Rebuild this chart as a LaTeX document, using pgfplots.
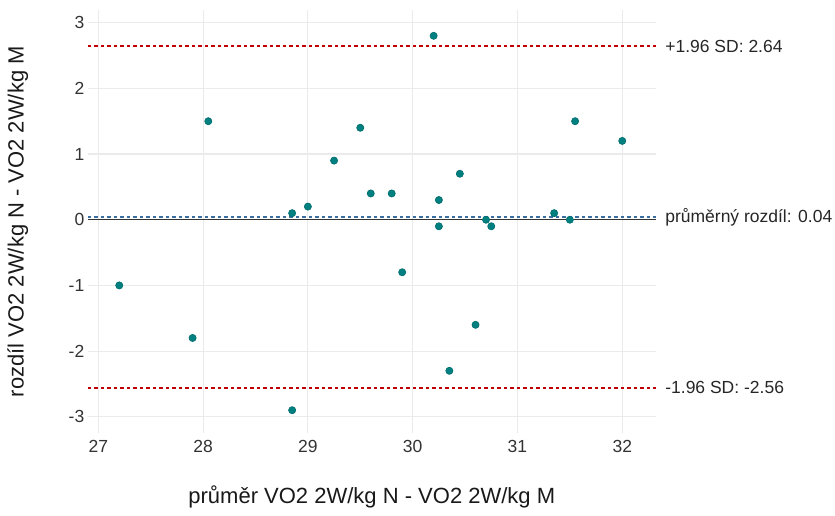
\documentclass[border=0pt]{standalone}
\usepackage{pgfplots}
\pgfplotsset{compat=1.18}
\usepackage{fontspec}
\setmainfont{Liberation Sans}
\definecolor{ptc}{HTML}{008080}
\definecolor{ptedge}{HTML}{006B6B}
\definecolor{sdred}{HTML}{C00000}
\definecolor{meanblue}{HTML}{3A6EA0}
\definecolor{gridc}{HTML}{EBEBEB}
\definecolor{tickc}{HTML}{333333}
\begin{document}
\begin{tikzpicture}
\path[use as bounding box] (-87.8pt,-82.8pt) rectangle (747.2pt,433.2pt);
\begin{axis}[
  width=568pt, height=423pt, scale only axis,
  xmin=26.9, xmax=32.32, ymin=-3.25, ymax=3.19,
  axis line style={draw=none}, major tick length=0pt,
  xtick={27,28,29,30,31,32}, ytick={-3,-2,-1,0,1,2,3},
  grid=major, major grid style={gridc, line width=1.1pt},
  clip=false,
  /pgf/number format/assume math mode=true,
  ticklabel style={font=\fontsize{17.5}{20}\selectfont, text=tickc},
  xticklabel style={yshift=-4pt},
  xlabel={průměr VO2 2W/kg N - VO2 2W/kg M},
  ylabel={rozdíl VO2 2W/kg N - VO2 2W/kg M},
  every axis x label/.style={at={(axis description cs:0.5,-0.151)}, anchor=center, font=\fontsize{22}{26}\selectfont, text=black!90},
  every axis y label/.style={at={(axis description cs:-0.1232,0.5)}, anchor=center, rotate=90, font=\fontsize{22}{26}\selectfont, text=black!90},
]
\addplot[draw=black!80, line width=1.2pt] coordinates {(26.9,0) (32.32,0)};
\addplot[draw=meanblue, line width=2.2pt, dash pattern=on 3.5pt off 3pt] coordinates {(26.9,0.04) (32.32,0.04)};
\addplot[draw=sdred, line width=2.2pt, dash pattern=on 3.5pt off 3pt] coordinates {(26.9,2.64) (32.32,2.64)};
\addplot[draw=sdred, line width=2.2pt, dash pattern=on 3.5pt off 3pt] coordinates {(26.9,-2.56) (32.32,-2.56)};
\addplot[only marks, mark=*, mark size=3.6pt, mark options={fill=ptc, draw=ptedge, line width=0.6pt}] table {
x y
28.05 1.5
28.85 0.1
29.0 0.2
29.25 0.9
29.5 1.4
29.6 0.4
29.8 0.4
30.2 2.8
30.25 0.3
30.45 0.7
30.25 -0.1
30.7 0.0
30.75 -0.1
31.35 0.1
31.5 0.0
31.55 1.5
32.0 1.2
27.2 -1.0
27.9 -1.8
28.85 -2.9
29.9 -0.8
30.6 -1.6
30.35 -2.3
};
\node[anchor=west, font=\fontsize{17.5}{20}\selectfont, text=black!85, xshift=6pt] at (axis cs:32.32,2.64) {+1.96 SD: 2.64};
\node[anchor=west, font=\fontsize{17.5}{20}\selectfont, text=black!85, xshift=6pt] at (axis cs:32.32,0.04) {průměrný rozdíl: 0.04};
\node[anchor=west, font=\fontsize{17.5}{20}\selectfont, text=black!85, xshift=6pt] at (axis cs:32.32,-2.56) {-1.96 SD: -2.56};
\end{axis}
\end{tikzpicture}
\end{document}
